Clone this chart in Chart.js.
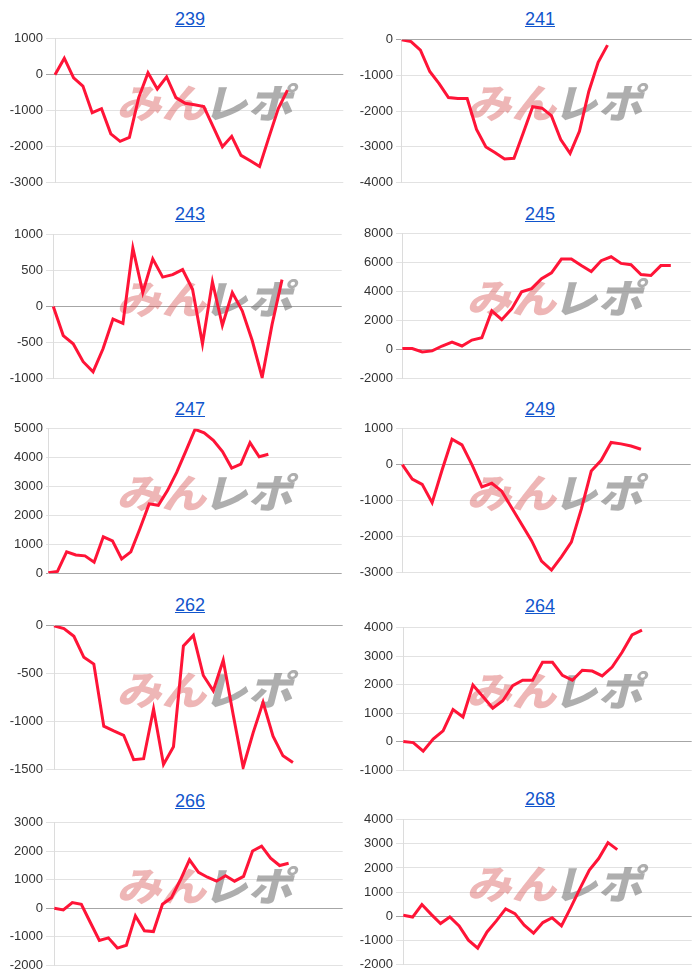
<!DOCTYPE html>
<html>
<head>
<meta charset="utf-8">
<script src="https://cdn.jsdelivr.net/npm/chart.js@4.4.0/dist/chart.umd.min.js"></script>
<style>
  body { margin: 0; background: #fff; width: 700px; height: 979px; position: relative; overflow: hidden;
         font-family: 'Liberation Sans', Arial, sans-serif; }
  .ttl { position: absolute; width: 380px; text-align: center; font-size: 18px; line-height: 20px; }
  .ttl a { color: #1155cc; text-decoration: underline; }
  canvas { position: absolute; }
</style>
</head>
<body>
<script>
// machine numbers (chart titles)
var titles = ['239', '241', '243', '245', '247', '249', '262', '264', '266', '268'];

// number of x slots on each chart
var xSlots = [32, 32, 30, 30, 33, 30, 30, 30, 33, 32];

// series values
var s239 = [0, 460, -90, -320, -1060, -950, -1650, -1860, -1750, -640, 50, -400, -60, -640, -800, -840, -890, -1450, -2010, -1720, -2250, -2400, -2560, -1750, -950, -430];
var s241 = [0, -50, -290, -890, -1230, -1620, -1650, -1650, -2520, -3010, -3170, -3350, -3330, -2610, -1880, -1920, -2130, -2800, -3190, -2570, -1450, -630, -150];
var s243 = [0, -405, -520, -770, -910, -590, -175, -235, 815, 195, 665, 410, 445, 515, 240, -520, 345, -265, 195, -60, -475, -990, -250, 375];
var s245 = [50, 50, -180, -110, 230, 500, 230, 640, 800, 2660, 2050, 2800, 3980, 4200, 4890, 5300, 6250, 6250, 5800, 5390, 6140, 6410, 5950, 5860, 5180, 5110, 5800, 5800];
var s247 = [20, 60, 740, 630, 600, 380, 1260, 1120, 490, 740, 1550, 2400, 2350, 2860, 3490, 4230, 4980, 4860, 4600, 4210, 3640, 3780, 4520, 4030, 4120];
var s249 = [0, -400, -550, -1060, -150, 710, 550, 0, -620, -520, -740, -1200, -1660, -2120, -2690, -2940, -2570, -2160, -1240, -180, 120, 620, 580, 520, 430];
var s262 = [0, -30, -110, -330, -400, -1050, -1100, -1145, -1400, -1390, -870, -1450, -1265, -210, -100, -520, -680, -360, -930, -1480, -1120, -800, -1155, -1360, -1430];
var s264 = [10, -30, -330, 90, 380, 1130, 870, 1990, 1590, 1180, 1440, 1970, 2160, 2160, 2790, 2790, 2330, 2160, 2510, 2480, 2310, 2620, 3140, 3750, 3920];
var s266 = [0, -60, 200, 140, -500, -1130, -1040, -1400, -1300, -270, -790, -820, 140, 370, 1000, 1700, 1260, 1090, 950, 1140, 950, 1120, 2010, 2180, 1760, 1500, 1580];
var s268 = [30, -40, 480, 70, -310, -40, -410, -1000, -1330, -660, -200, 300, 100, -380, -710, -270, -70, -410, 350, 1150, 1910, 2390, 3050, 2760];
var series = [s239, s241, s243, s245, s247, s249, s262, s264, s266, s268];

// y tick labels
var t239 = [-3000, -2000, -1000, 0, 1000];
var t241 = [-4000, -3000, -2000, -1000, 0];
var t243 = [-1000, -500, 0, 500, 1000];
var t245 = [-2000, 0, 2000, 4000, 6000, 8000];
var t247 = [0, 1000, 2000, 3000, 4000, 5000];
var t249 = [-3000, -2000, -1000, 0, 1000];
var t262 = [-1500, -1000, -500, 0];
var t264 = [-1000, 0, 1000, 2000, 3000, 4000];
var t266 = [-2000, -1000, 0, 1000, 2000, 3000];
var t268 = [-2000, -1000, 0, 1000, 2000, 3000, 4000];
var yTicks = [t239, t241, t243, t245, t247, t249, t262, t264, t266, t268];

// where each panel sits on the page
var panels = [
  { x: 0,   top: 38.3,  bottom: 183.3, left: 55,   right: 343.3, ty: 18.5 },
  { x: 350, top: 39,    bottom: 183.3, left: 51.7, right: 341.7, ty: 18.5 },
  { x: 0,   top: 234,   bottom: 379,   left: 53.3, right: 341.7, ty: 213.5 },
  { x: 350, top: 232.7, bottom: 379,   left: 52.3, right: 340.7, ty: 213.5 },
  { x: 0,   top: 427.7, bottom: 573.3, left: 48.3, right: 341.7, ty: 408.5 },
  { x: 350, top: 428.3, bottom: 573.3, left: 52.3, right: 340.7, ty: 408.5 },
  { x: 0,   top: 625,   bottom: 770,   left: 54,   right: 342.7, ty: 605 },
  { x: 350, top: 626.7, bottom: 771,   left: 53.3, right: 341.7, ty: 606 },
  { x: 0,   top: 822.3, bottom: 966.7, left: 54.3, right: 342.7, ty: 801 },
  { x: 350, top: 819.3, bottom: 965.7, left: 53.3, right: 341.7, ty: 799 }
];

Chart.defaults.font.family = "'Liberation Sans', Arial, sans-serif";

// the "みんレポ" logo behind each line
var watermark = {
  id: 'watermark',
  beforeDatasetsDraw: function(chart) {
    var ctx = chart.ctx, a = chart.chartArea;
    ctx.save();
    ctx.translate(208, (a.top + a.bottom) / 2 - 9);
    ctx.transform(1, 0, -0.25, 1, 0, 0);
    ctx.scale(1.12, 1);
    ctx.font = '900 40px "Noto Sans CJK JP"';
    ctx.textBaseline = 'middle';
    ctx.lineJoin = 'round';
    ctx.lineWidth = 1.5;
    ctx.textAlign = 'right';
    ctx.fillStyle = 'rgba(214, 80, 80, 0.42)';
    ctx.strokeStyle = 'rgba(214, 80, 80, 0.42)';
    ctx.fillText('みん', 2, 1);
    ctx.textAlign = 'left';
    ctx.fillStyle = 'rgba(120, 120, 120, 0.6)';
    ctx.fillText('レポ', -1, 1);
    ctx.restore();
  }
};

var PAD = 10;

titles.forEach(function(title, i) {
  var p = panels[i];
  var ticks = yTicks[i];

  var t = document.createElement('div');
  t.className = 'ttl';
  t.style.left = p.x + 'px';
  t.style.top = (p.ty - 10) + 'px';
  t.innerHTML = '<a href="#">' + title + '</a>';
  document.body.appendChild(t);

  var cv = document.createElement('canvas');
  var h = Math.round(p.bottom - p.top + 2 * PAD);
  cv.width = 350;
  cv.height = h;
  cv.style.left = p.x + 'px';
  cv.style.top = (p.top - PAD) + 'px';
  cv.style.width = '350px';
  cv.style.height = h + 'px';
  document.body.appendChild(cv);

  var labels = [];
  for (var k = 1; k <= xSlots[i]; k++) labels.push(k);

  new Chart(cv, {
    type: 'line',
    data: {
      labels: labels,
      datasets: [{
        data: series[i],
        borderColor: 'rgb(255, 20, 55)',
        borderWidth: 3,
        pointRadius: 0,
        tension: 0,
        fill: false
      }]
    },
    options: {
      responsive: false,
      animation: false,
      devicePixelRatio: 1,
      layout: { padding: { top: PAD, bottom: PAD, left: 0, right: 350 - p.right } },
      plugins: { legend: { display: false }, tooltip: { enabled: false } },
      scales: {
        x: { display: false, offset: false },
        y: {
          min: ticks[0],
          max: ticks[ticks.length - 1],
          afterFit: function(scale) { scale.width = p.left; },
          ticks: {
            stepSize: ticks[1] - ticks[0],
            padding: 3,
            color: '#333',
            font: { size: 13 },
            callback: function(v) { return String(v); }
          },
          grid: {
            drawTicks: true,
            tickLength: p.left - 46,
            color: function(c) { return c.tick && c.tick.value === 0 ? '#a6a6a6' : '#e2e2e2'; },
            lineWidth: 1
          },
          border: { display: true, color: '#dcdcdc', width: 1 }
        }
      }
    },
    plugins: [watermark]
  });
});
</script>
</body>
</html>
